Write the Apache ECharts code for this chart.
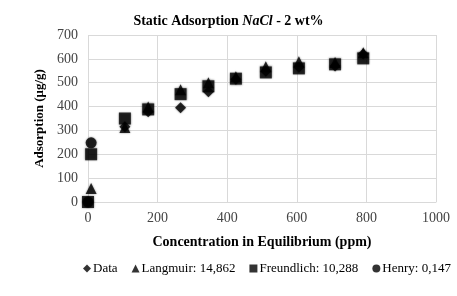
<!DOCTYPE html>
<html>
<head>
<meta charset="utf-8">
<script src="https://cdn.jsdelivr.net/npm/echarts@6/dist/echarts.min.js"></script>
<style>
  html, body { margin: 0; padding: 0; background: #fff; }
  #main { width: 457px; height: 296px; }
</style>
</head>
<body>
<div id="main"></div>
<script>
// valores
var dataPts = [[0, 0], [106, 315], [173, 378], [266, 395], [346, 462], [425, 515], [511, 548], [606, 565], [710, 570], [791, 620]];
var langmuirPts = [[9, 57], [106, 312], [173, 398], [266, 470], [346, 500], [425, 525], [511, 567], [606, 588], [710, 585], [791, 626]];
var freundlichPts = [[0, 0], [9, 200], [106, 350], [173, 388], [266, 452], [346, 485], [425, 517], [511, 543], [606, 560], [710, 577], [791, 602]];
var henryPts = [[0, 0], [9, 248]];

var seriesNames = ['Data', 'Langmuir: 14,862', 'Freundlich: 10,288', 'Henry: 0,147'];
var xTicks = { min: 0, max: 1000, interval: 200 };
var yTicks = { min: 0, max: 700, interval: 100 };

var font = "'Liberation Serif', serif";

function mkSeries(name, pts, symbol, size) {
  return {
    name: name,
    type: 'scatter',
    symbol: symbol,
    symbolSize: size,
    data: pts,
    itemStyle: { color: '#000', shadowBlur: 2, shadowColor: 'rgba(0,0,0,0.6)' }
  };
}

var chart = echarts.init(document.getElementById('main'));
chart.setOption({
  animation: false,
  textStyle: { fontFamily: font },
  title: {
    text: '{b|Static Adsorption }{i|NaCl}{b| - 2 wt%}',
    left: 'center',
    top: 9,
    textStyle: {
      rich: {
        b: { fontFamily: font, fontWeight: 'bold', fontSize: 14, color: '#000' },
        i: { fontFamily: font, fontWeight: 'bold', fontStyle: 'italic', fontSize: 14, color: '#000' }
      }
    }
  },
  grid: { left: 88, right: 21, top: 35, bottom: 94, containLabel: false },
  xAxis: {
    type: 'value',
    min: xTicks.min, max: xTicks.max, interval: xTicks.interval,
    name: 'Concentration in Equilibrium (ppm)',
    nameLocation: 'middle',
    nameGap: 33,
    nameTextStyle: { fontFamily: font, fontWeight: 'bold', fontSize: 14, color: '#000' },
    axisLine: { show: true, lineStyle: { color: '#d9d9d9', width: 1 } },
    axisTick: { show: false },
    axisLabel: { fontFamily: font, fontSize: 14, color: '#444', margin: 9, formatter: function (v) { return String(v); } },
    splitLine: { show: true, lineStyle: { color: '#d9d9d9', width: 1 } }
  },
  yAxis: {
    type: 'value',
    min: yTicks.min, max: yTicks.max, interval: yTicks.interval,
    name: 'Adsorption (μg/g)',
    nameLocation: 'middle',
    nameGap: 38,
    nameTextStyle: { fontFamily: font, fontWeight: 'bold', fontSize: 13, color: '#000' },
    axisLine: { show: false },
    axisTick: { show: false },
    axisLabel: { fontFamily: font, fontSize: 14, color: '#444', margin: 10, formatter: function (v) { return String(v); } },
    splitLine: { show: true, lineStyle: { color: '#d9d9d9', width: 1 } }
  },
  legend: {
    bottom: 16,
    left: 78,
    itemWidth: 8,
    itemHeight: 8,
    itemGap: 14,
    textStyle: { fontFamily: font, fontSize: 13, color: '#000', padding: [0, 0, 0, -3] },
    data: [
      { name: seriesNames[0], icon: 'diamond' },
      { name: seriesNames[1], icon: 'triangle' },
      { name: seriesNames[2], icon: 'rect' },
      { name: seriesNames[3], icon: 'circle' }
    ]
  },
  series: [
    mkSeries(seriesNames[3], henryPts, 'circle', 11),
    mkSeries(seriesNames[1], langmuirPts, 'triangle', 11),
    mkSeries(seriesNames[0], dataPts, 'diamond', 11),
    mkSeries(seriesNames[2], freundlichPts, 'rect', 12)
  ]
});
</script>
</body>
</html>
